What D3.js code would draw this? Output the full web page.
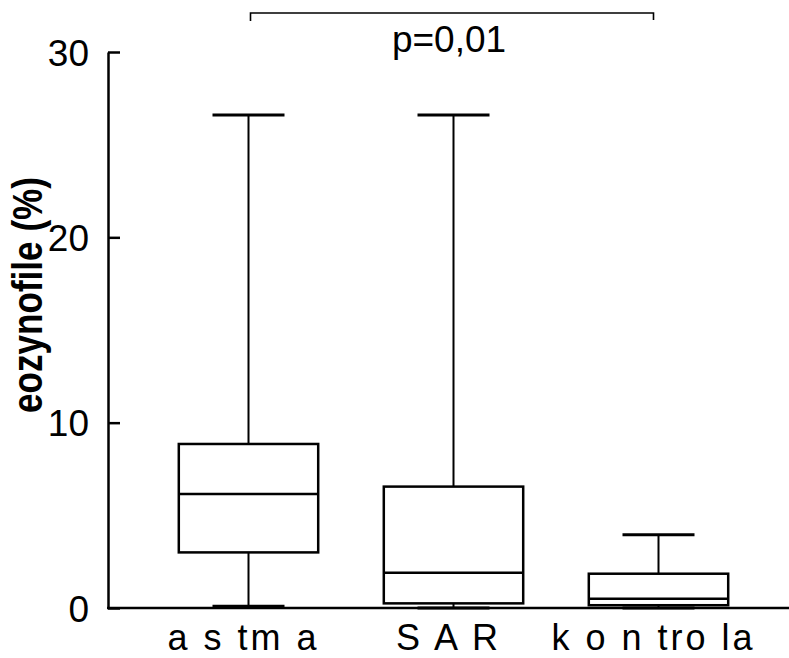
<!DOCTYPE html>
<html>
<head>
<meta charset="utf-8">
<script src="https://cdn.jsdelivr.net/npm/d3@7"></script>
<style>
  body { margin: 0; background: #fff; }
  text { font-family: "Liberation Sans", Arial, sans-serif; fill: #000; }
</style>
</head>
<body>
<script>
// box plot values
var categories = ["astma", "SAR", "kontrola"];
var catLabels = ["a s tm a", "S A R", "k o n tro la"];
var whiskerLow = [0.1, 0, 0];
var q1 = [3.0, 0.25, 0.15];
var median = [6.15, 1.9, 0.5];
var q3 = [8.85, 6.55, 1.85];
var whiskerHigh = [26.6, 26.6, 3.95];
var yTicks = [0, 10, 20, 30];
var pLabel = "p=0,01";
var pGroups = ["astma", "kontrola"];

var width = 789, height = 658;
var axisX = 108;

var svg = d3.select("body").append("svg")
  .attr("width", width)
  .attr("height", height);

var y = d3.scaleLinear().domain([0, 30]).range([608, 52]);
var x = d3.scaleBand().domain(categories)
  .range([146, 761])
  .paddingInner(0.32)
  .paddingOuter(0.16);

var boxes = categories.map(function(c, i) {
  return {cat: c, label: catLabels[i], lo: whiskerLow[i], q1: q1[i], med: median[i], q3: q3[i], hi: whiskerHigh[i]};
});

// y axis, ticks pointing inwards
var yAxis = svg.append("g")
  .attr("transform", "translate(" + axisX + ",0)")
  .call(d3.axisLeft(y).tickValues(yTicks).tickSizeInner(-12).tickSizeOuter(0).tickPadding(19));
yAxis.select(".domain").attr("stroke-width", 2.5);
yAxis.selectAll(".tick line").attr("stroke-width", 2.5);
yAxis.selectAll(".tick text")
  .style("font-size", "37px")
  .attr("dy", "0.36em");

// baseline
svg.append("line")
  .attr("x1", axisX - 1).attr("x2", width)
  .attr("y1", y(0)).attr("y2", y(0))
  .attr("stroke", "#000").attr("stroke-width", 2.5);

var capW = 72;
var g = svg.selectAll(".box").data(boxes).enter().append("g").attr("class", "box");

g.append("line")
  .attr("x1", function(d) { return x(d.cat) + x.bandwidth() / 2; })
  .attr("x2", function(d) { return x(d.cat) + x.bandwidth() / 2; })
  .attr("y1", function(d) { return y(d.hi); })
  .attr("y2", function(d) { return y(d.lo); })
  .attr("stroke", "#000").attr("stroke-width", 2);

g.append("rect")
  .attr("x", function(d) { return x(d.cat); })
  .attr("width", x.bandwidth())
  .attr("y", function(d) { return y(d.q3); })
  .attr("height", function(d) { return y(d.q1) - y(d.q3); })
  .attr("fill", "#fff").attr("stroke", "#000").attr("stroke-width", 2.5);

g.append("line")
  .attr("x1", function(d) { return x(d.cat); })
  .attr("x2", function(d) { return x(d.cat) + x.bandwidth(); })
  .attr("y1", function(d) { return y(d.med); })
  .attr("y2", function(d) { return y(d.med); })
  .attr("stroke", "#000").attr("stroke-width", 2.5);

// caps
["hi", "lo"].forEach(function(k) {
  g.append("line")
    .attr("x1", function(d) { return x(d.cat) + x.bandwidth() / 2 - capW / 2; })
    .attr("x2", function(d) { return x(d.cat) + x.bandwidth() / 2 + capW / 2; })
    .attr("y1", function(d) { return y(d[k]); })
    .attr("y2", function(d) { return y(d[k]); })
    .attr("stroke", "#000").attr("stroke-width", 3);
});

// category labels
g.append("text")
  .attr("x", function(d) { return x(d.cat) + x.bandwidth() / 2 - 5; })
  .attr("y", 650)
  .attr("text-anchor", "middle")
  .style("font-size", "36px")
  .style("letter-spacing", "3px")
  .text(function(d) { return d.label; });

// y axis title
svg.append("text")
  .attr("transform", "translate(42,295) rotate(-90)")
  .attr("text-anchor", "middle")
  .attr("textLength", 236)
  .attr("lengthAdjust", "spacingAndGlyphs")
  .style("font-family", "'Liberation Sans Narrow', 'Arial Narrow', 'Liberation Sans', sans-serif")
  .style("font-weight", "bold")
  .style("font-size", "42px")
  .text("eozynofile (%)");

// significance bracket
var bx1 = x(pGroups[0]) + x.bandwidth() / 2 + 2;
var bx2 = x(pGroups[1]) + x.bandwidth() / 2 - 5;
svg.append("path")
  .attr("d", "M" + bx1 + ",21V13H" + bx2 + "V20")
  .attr("fill", "none").attr("stroke", "#000").attr("stroke-width", 1.6);
svg.append("text")
  .attr("x", (bx1 + bx2) / 2 - 3)
  .attr("y", 52)
  .attr("text-anchor", "middle")
  .style("font-size", "37px")
  .text(pLabel);
</script>
</body>
</html>
